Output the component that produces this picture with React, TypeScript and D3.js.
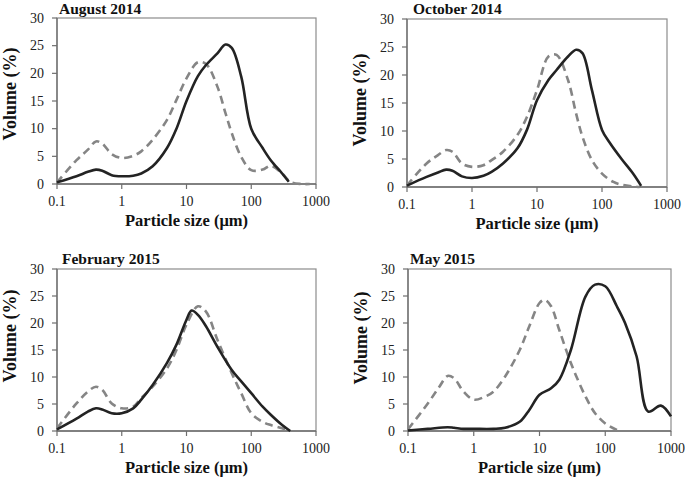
import React from "react";
import * as d3 from "d3";

// ---- Data (particle size in µm, volume in %) ----
const panelTitles = ["August 2014", "October 2014", "February 2015", "May 2015"];
const xTicks = [0.1, 1, 10, 100, 1000];
const yTicks = [0, 5, 10, 15, 20, 25, 30];

const augSolidSizes = [0.1, 0.2, 0.3, 0.4, 0.5, 0.7, 1, 1.5, 2, 3, 5, 7, 10, 15, 20, 30, 40, 50, 70, 100, 150, 200, 300, 380];
const augSolidVals = [0.3, 1.4, 2.2, 2.6, 2.4, 1.6, 1.4, 1.5, 1.9, 3.2, 6.5, 10, 15, 19.5, 21.5, 23.6, 25.2, 24.6, 19.4, 10, 6.5, 4.3, 1.9, 0.4];
const augDashSizes = [0.1, 0.2, 0.3, 0.4, 0.5, 0.7, 1, 1.5, 2, 3, 5, 7, 10, 15, 20, 30, 40, 50, 70, 100, 150, 200, 300, 400, 600, 800];
const augDashVals = [0.3, 4.3, 6.2, 7.7, 7.3, 5.4, 4.7, 5.1, 5.9, 8, 11.6, 15.2, 19.1, 22, 21.7, 17.6, 12.8, 9.2, 4.9, 2.5, 2.6, 3.3, 1.9, 0.4, 0, 0];

const octSolidSizes = [0.1, 0.2, 0.3, 0.4, 0.5, 0.7, 1, 1.5, 2, 3, 5, 7, 10, 15, 20, 30, 40, 50, 70, 100, 130, 200, 300, 400];
const octSolidVals = [0.25, 1.8, 2.6, 3.1, 2.9, 1.9, 1.6, 2, 2.7, 4.2, 6.9, 10.2, 15.5, 19.1, 20.9, 23.3, 24.5, 23.9, 17.3, 10.2, 8, 5, 2.4, 0.2];
const octDashSizes = [0.1, 0.2, 0.3, 0.4, 0.5, 0.7, 1, 1.5, 2, 3, 5, 7, 10, 15, 20, 30, 40, 50, 70, 100, 150, 200, 300, 380];
const octDashVals = [0.3, 4.2, 5.7, 6.6, 6.3, 4.2, 3.6, 3.9, 4.8, 6.3, 9.3, 12.5, 17.3, 23.3, 23.6, 19.1, 13.1, 9, 4.8, 2.4, 0.9, 0.4, 0.1, 0];

const febSolidSizes = [0.1, 0.2, 0.3, 0.4, 0.5, 0.7, 1, 1.5, 2, 3, 5, 7, 10, 12, 15, 20, 30, 50, 70, 100, 150, 200, 300, 400];
const febSolidVals = [0.3, 2.3, 3.6, 4.2, 4, 3.3, 3.3, 4.2, 5.8, 8.5, 12.6, 16, 20.6, 22.3, 21.5, 19.4, 15.6, 11.3, 9.2, 7, 4.5, 3, 1.1, 0];
const febDashSizes = [0.1, 0.2, 0.3, 0.4, 0.5, 0.7, 1, 1.5, 2, 3, 5, 7, 10, 15, 20, 30, 50, 70, 100, 150, 200, 300, 400];
const febDashVals = [0.5, 5.1, 7.3, 8.2, 7.6, 5.1, 4.2, 4.5, 6.1, 8.2, 11.6, 15, 19.7, 23.1, 22.1, 16.9, 10.7, 7, 3.3, 1.7, 1.1, 0.5, 0];

const maySolidSizes = [0.1, 0.2, 0.4, 0.5, 0.7, 1, 2, 3, 5, 7, 10, 15, 20, 30, 50, 70, 100, 150, 200, 300, 450, 700, 1000];
const maySolidVals = [0.1, 0.4, 0.7, 0.6, 0.4, 0.4, 0.4, 0.6, 1.7, 3.9, 6.7, 7.9, 9.5, 15, 24.9, 27.1, 26.8, 23.1, 20, 13.8, 3.6, 4.7, 2.7];
const mayDashSizes = [0.1, 0.2, 0.3, 0.4, 0.5, 0.7, 1, 1.5, 2, 3, 5, 7, 10, 12, 15, 20, 30, 50, 70, 100, 150, 170];
const mayDashVals = [0.3, 5.1, 8.2, 10.2, 9.8, 7.3, 5.8, 6.4, 7.3, 10.1, 15, 19.4, 23.7, 24.3, 23.1, 18.7, 12.6, 6.4, 3.3, 1.4, 0.2, 0];

type Pt = [number, number];
const zip = (s: number[], v: number[]): Pt[] => s.map((x, i) => [x, v[i]]);

const seriesByPanel: { solid: Pt[]; dashed: Pt[] }[] = [
  { solid: zip(augSolidSizes, augSolidVals), dashed: zip(augDashSizes, augDashVals) },
  { solid: zip(octSolidSizes, octSolidVals), dashed: zip(octDashSizes, octDashVals) },
  { solid: zip(febSolidSizes, febSolidVals), dashed: zip(febDashSizes, febDashVals) },
  { solid: zip(maySolidSizes, maySolidVals), dashed: zip(mayDashSizes, mayDashVals) },
];

// ---- Layout ----
const layouts = [
  { x0: 57, x1: 316, y0: 18, y1: 184, titleX: 59, titleY: 13.5, yTitleC: 94 },
  { x0: 407, x1: 667, y0: 19, y1: 187, titleX: 413, titleY: 13.5, yTitleC: 100 },
  { x0: 57, x1: 316, y0: 269, y1: 431, titleX: 62, titleY: 264, yTitleC: 336 },
  { x0: 408, x1: 671, y0: 269, y1: 431, titleX: 410, titleY: 264, yTitleC: 338 },
];

const FONT = "'Liberation Serif', 'Times New Roman', serif";

function Panel({ idx }: { idx: number }) {
  const L = layouts[idx];
  const data = seriesByPanel[idx];
  const x = d3.scaleLog().domain([0.1, 1000]).range([L.x0, L.x1]);
  const y = d3.scaleLinear().domain([0, 30]).range([L.y1, L.y0]);
  const line = d3
    .line<Pt>()
    .x((d) => x(d[0]))
    .y((d) => y(d[1]))
    .curve(d3.curveCatmullRom.alpha(0.5));
  const xMid = (L.x0 + L.x1) / 2;
  return (
    <g>
      <rect x={L.x0} y={L.y0} width={L.x1 - L.x0} height={L.y1 - L.y0} fill="none" stroke="#8c8c8c" strokeWidth={1.2} />
      <line x1={L.x0} x2={L.x0} y1={L.y0} y2={L.y1} stroke="#6e6e6e" strokeWidth={1.3} />
      <line x1={L.x0} x2={L.x1} y1={L.y1} y2={L.y1} stroke="#6e6e6e" strokeWidth={1.3} />
      {yTicks.map((t) => (
        <g key={"y" + t}>
          <line x1={L.x0 - 5} x2={L.x0} y1={y(t)} y2={y(t)} stroke="#6e6e6e" strokeWidth={1.2} />
          <text x={L.x0 - 13} y={y(t) + 4.5} textAnchor="end" fontFamily={FONT} fontSize={14} fill="#222">
            {t}
          </text>
        </g>
      ))}
      {xTicks.map((t) => (
        <g key={"x" + t}>
          <line x1={x(t)} x2={x(t)} y1={L.y1} y2={L.y1 + 5} stroke="#6e6e6e" strokeWidth={1.2} />
          <text x={x(t)} y={L.y1 + 22} textAnchor="middle" fontFamily={FONT} fontSize={14} fill="#222">
            {String(t)}
          </text>
        </g>
      ))}
      <path d={line(data.dashed) || ""} fill="none" stroke="#858585" strokeWidth={2.6} strokeDasharray="8,5" />
      <path d={line(data.solid) || ""} fill="none" stroke="#232323" strokeWidth={2.6} />
      <text x={L.titleX} y={L.titleY} fontFamily={FONT} fontWeight="bold" fontSize={15.5} fill="#111">
        {panelTitles[idx]}
      </text>
      <text x={xMid} y={L.y1 + 42} textAnchor="middle" fontFamily={FONT} fontWeight="bold" fontSize={16.5} fill="#111">
        Particle size (μm)
      </text>
      <text
        transform={`translate(${L.x0 - 41},${L.yTitleC}) rotate(-90)`}
        textAnchor="middle"
        fontFamily={FONT}
        fontWeight="bold"
        fontSize={18}
        fill="#111"
      >
        Volume (%)
      </text>
    </g>
  );
}

export default function App() {
  return (
    <svg
      width={685}
      height={479}
      viewBox="0 0 685 479"
      style={{ position: "absolute", left: 0, top: 0, background: "#fff" }}
    >
      <rect x={0} y={0} width={685} height={479} fill="#fff" />
      {[0, 1, 2, 3].map((i) => (
        <Panel key={i} idx={i} />
      ))}
    </svg>
  );
}
